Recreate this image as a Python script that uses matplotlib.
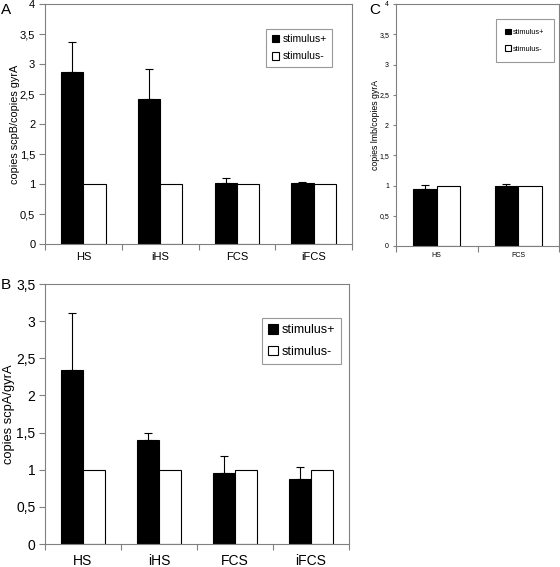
import numpy as np
import matplotlib.pyplot as plt

plt.rcParams['font.family'] = ['Liberation Sans', 'DejaVu Sans']

# panel A: scpB
cats_a = ['HS', 'iHS', 'FCS', 'iFCS']
plus_a = [2.86, 2.42, 1.02, 1.02]
plus_a_err = [0.51, 0.50, 0.08, 0.02]
minus_a = [1.0, 1.0, 1.0, 1.0]

# panel B: scpA
cats_b = ['HS', 'iHS', 'FCS', 'iFCS']
plus_b = [2.34, 1.40, 0.95, 0.88]
plus_b_err = [0.77, 0.10, 0.24, 0.15]
minus_b = [1.0, 1.0, 1.0, 1.0]

# panel C: lmb
cats_c = ['HS', 'FCS']
plus_c = [0.95, 1.0]
plus_c_err = [0.06, 0.02]
minus_c = [1.0, 1.0]

W, H = 560, 567
fig = plt.figure(figsize=(W / 100, H / 100), dpi=100)


def px_axes(x0, y0, x1, y1):
    return fig.add_axes([x0 / W, 1 - y1 / H, (x1 - x0) / W, (y1 - y0) / H])


def fmt(v):
    return ('%g' % v).replace('.', ',')


def panel(ax, cats, plus, err, minus, ymax, ylabel, fs, yfs, ylx, xpad,
          lfs, anchor, bpad, lspace, bw=0.29):
    x = np.arange(len(cats))
    ax.bar(x - bw / 2, plus, bw, color='black', edgecolor='black', lw=0.8,
           label='stimulus+', zorder=2)
    ax.bar(x + bw / 2, minus, bw, color='white', edgecolor='black', lw=0.8,
           label='stimulus-', zorder=2)
    ax.errorbar(x - bw / 2, plus, yerr=[np.zeros(len(err)), err], fmt='none',
                ecolor='black', elinewidth=0.8, capsize=3, capthick=0.8, zorder=3)
    ax.set_xlim(-0.5, len(cats) - 0.5)
    ax.set_ylim(0, ymax)
    yt = np.arange(0, ymax + 0.01, 0.5)
    ax.set_yticks(yt)
    ax.set_yticklabels([fmt(v) for v in yt], fontsize=fs)
    ax.set_xticks(np.arange(-0.5, len(cats)), labels=[])
    ax.set_xticks(x, minor=True)
    ax.set_xticklabels(cats, minor=True, fontsize=fs)
    ax.tick_params(axis='x', which='minor', length=0, pad=xpad)
    ax.tick_params(axis='x', which='major', length=4, color='#808080')
    ax.tick_params(axis='y', length=4, color='#808080', pad=3)
    for s in ax.spines.values():
        s.set_color('#808080')
        s.set_linewidth(0.8)
    ax.set_ylabel(ylabel, fontsize=yfs, va='center')
    ax.yaxis.set_label_coords(ylx, 0.5)
    leg = ax.legend(fontsize=lfs, frameon=True, fancybox=False, handlelength=0.75,
                    handleheight=0.75, handletextpad=0.3, borderpad=bpad,
                    labelspacing=lspace, loc='upper right', borderaxespad=0,
                    bbox_to_anchor=anchor)
    leg.get_frame().set_edgecolor('#808080')
    leg.get_frame().set_linewidth(0.8)
    return leg


ax_a = px_axes(45, 4, 352, 244)
panel(ax_a, cats_a, plus_a, plus_a_err, minus_a, 4, 'copies scpB/copies gyrA',
      8, 7.8, -0.098, 5.5, 7.5, (0.935, 0.896), 0.5, 0.7)

ax_b = px_axes(45, 284, 349, 544)
panel(ax_b, cats_b, plus_b, plus_b_err, minus_b, 3.5, 'copies scpA/gyrA',
      10, 9.3, -0.118, 7, 9, (0.974, 0.869), 0.5, 0.75)

ax_c = px_axes(396, 4, 559, 246)
panel(ax_c, cats_c, plus_c, plus_c_err, minus_c, 4, 'copies lmb/copies gyrA',
      5, 6.3, -0.125, 4, 5.3, (0.969, 0.938), 1.3, 1.3)
ax_c.tick_params(axis='y', length=2)

fig.text(1 / W, 1 - 10 / H, 'A', fontsize=11, va='center', ha='left')
fig.text(1 / W, 1 - 285 / H, 'B', fontsize=11, va='center', ha='left')
fig.text(369 / W, 1 - 10 / H, 'C', fontsize=11, va='center', ha='left')

fig.savefig('out.png', dpi=100)
